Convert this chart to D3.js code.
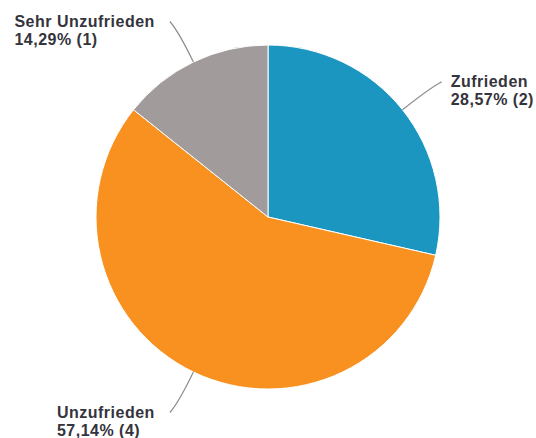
<!DOCTYPE html>
<html>
<meta charset="utf-8">
<head>
<style>
body {
  background-color: #fff;
  padding:0; margin:0;
}
svg { display: block; }
.label text {
  font-family: "Liberation Sans", Arial, sans-serif;
  font-size: 16px;
  font-weight: bold;
  letter-spacing: 0.5px;
  fill: #34343c;
}
.leader {
  fill: none;
  stroke: #8c8c8c;
  stroke-width: 1.2;
}
</style>
</head>
<body>
<svg></svg>
<script src="https://d3js.org/d3.v7.min.js"></script>
<script>

var categories = ["Zufrieden", "Unzufrieden", "Sehr Unzufrieden"];
var counts = [2, 4, 1];
var colors = ["#1a96c0", "#f8911f", "#a29b9b"];

var width = 536, height = 438;
var cx = 268, cy = 217, radius = 172;

var svg = d3.select("svg")
  .attr("width", width)
  .attr("height", height);

var total = d3.sum(counts);
var data = categories.map(function(c, i) {
  return { name: c, value: counts[i], color: colors[i] };
});

var pie = d3.pie().sort(null).value(function(d) { return d.value; });
var arc = d3.arc().innerRadius(0).outerRadius(radius);

var g = svg.append("g").attr("transform", "translate(" + cx + "," + cy + ")");

var arcs = pie(data);

g.selectAll("path.slice")
  .data(arcs)
  .enter().append("path")
    .attr("class", "slice")
    .attr("d", arc)
    .attr("fill", function(d) { return d.data.color; })
    .attr("stroke", "#fff")
    .attr("stroke-width", 1);

// angle from 12 o'clock, clockwise
function polar(a, r) {
  return [Math.sin(a) * r, -Math.cos(a) * r];
}

function pct(v) {
  return (v / total * 100).toFixed(2).replace(".", ",") + "% (" + v + ")";
}

arcs.forEach(function(d) {
  var mid = (d.startAngle + d.endAngle) / 2;
  var right = Math.sin(mid) > 0;
  var p0 = polar(mid, radius);
  var p1 = polar(mid, radius + 34);
  var p2 = polar(mid, radius + 45);
  p2[0] += right ? 4 : -4;

  g.append("path")
    .attr("class", "leader")
    .attr("d", "M" + p0 + "Q" + p1 + " " + p2);

  var lab = g.append("g").attr("class", "label");
  var t1 = lab.append("text").attr("y", p2[1] + 5).text(d.data.name);
  var t2 = lab.append("text").attr("y", p2[1] + 23).text(pct(d.data.value));
  var w = Math.max(t1.node().getComputedTextLength(), t2.node().getComputedTextLength());
  var x = right ? p2[0] + 9 : p2[0] - 15 - w;
  t1.attr("x", x);
  t2.attr("x", x);
});

</script>
</body>
</html>
